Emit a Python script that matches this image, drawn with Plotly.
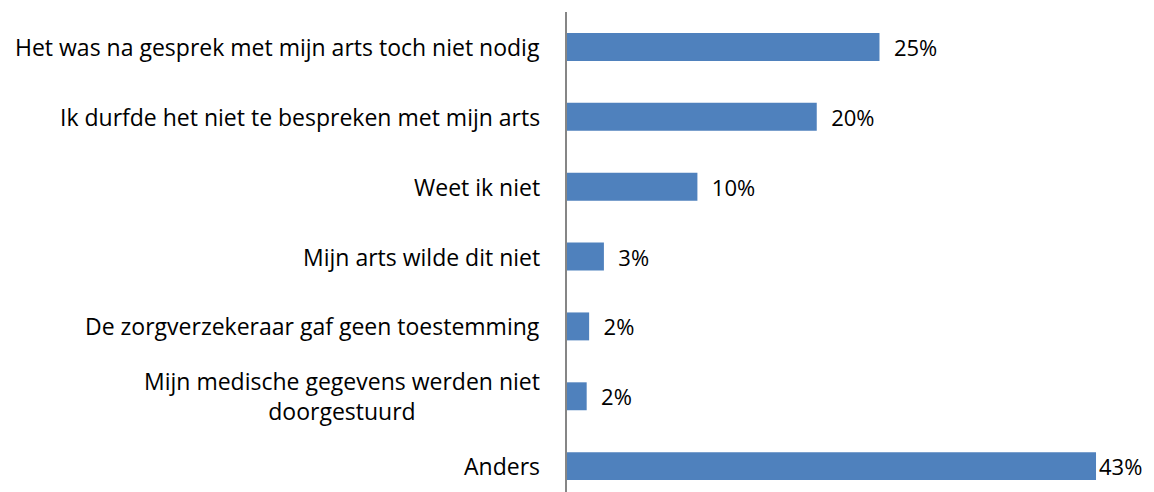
import plotly.graph_objects as go

# categories top to bottom
categories = [
    "Het was na gesprek met mijn arts toch niet nodig",
    "Ik durfde het niet te bespreken met mijn arts",
    "Weet ik niet",
    "Mijn arts wilde dit niet",
    "De zorgverzekeraar gaf geen toestemming",
    "Mijn medische gegevens werden niet<br>doorgestuurd",
    "Anders",
]
values = [25.4, 20.3, 10.6, 3.0, 1.8, 1.6, 43.0]
labels = ["25%", "20%", "10%", "3%", "2%", "2%", "43%"]

# Excel puts a gap before the labels, except the last one which hits the edge
texts = ["\u00a0\u00a0" + t for t in labels[:-1]] + [labels[-1]]

FONT = "Open Sans"
SIZE = 23

fig = go.Figure(go.Bar(
    x=values,
    y=categories,
    orientation="h",
    width=0.4,
    marker=dict(color="#4F81BD", line=dict(width=0)),
    text=texts,
    textposition="outside",
    constraintext="none",
    textfont=dict(size=22, color="#000000", family=FONT),
    cliponaxis=False,
))

# category labels as annotations so the wrapped one is centred like in Excel
for cat in categories:
    fig.add_annotation(
        x=0, y=cat, xref="x", yref="y",
        text=cat, showarrow=False,
        xanchor="right", xshift=-25, align="center",
        font=dict(size=SIZE, color="#000000", family=FONT),
    )

# page body has an 8px margin, so the figure is a bit smaller than the window
fig.update_layout(
    width=1146,
    height=484,
    margin=dict(l=559, r=10, t=4, b=0),
    plot_bgcolor="white",
    paper_bgcolor="white",
    font=dict(family=FONT, size=SIZE, color="#000000"),
    showlegend=False,
)
fig.update_xaxes(range=[0, 46.9], visible=False, showgrid=False)
fig.update_yaxes(
    range=[6.37, -0.5],
    showline=True,
    linecolor="#868686",
    linewidth=1.5,
    ticks="",
    showticklabels=False,
    showgrid=False,
    zeroline=False,
    automargin=False,
)

fig.write_html("out.html")
